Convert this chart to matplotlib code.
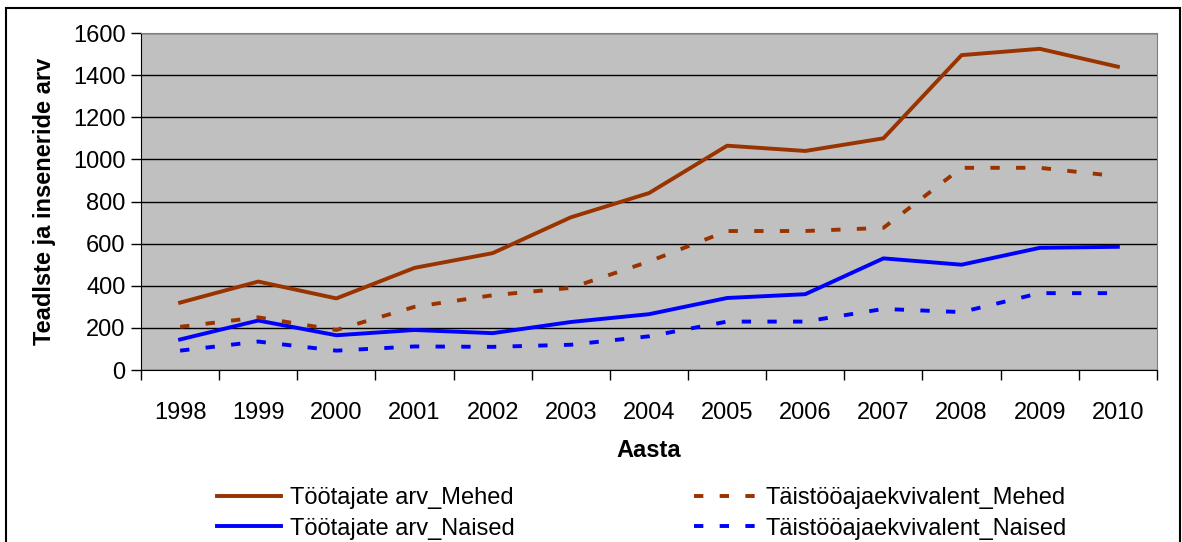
import numpy as np
import matplotlib
matplotlib.use("Agg")
import matplotlib.pyplot as plt
from matplotlib.patches import Rectangle

plt.rcParams['font.family'] = ['Liberation Sans', 'DejaVu Sans']

# andmed
years = ["1998", "1999", "2000", "2001", "2002", "2003", "2004",
         "2005", "2006", "2007", "2008", "2009", "2010"]
tootajad_mehed = [320, 420, 340, 485, 555, 725, 840, 1065, 1040, 1100, 1495, 1525, 1440]
tais_mehed = [205, 250, 190, 300, 355, 390, 515, 660, 660, 675, 960, 960, 920]
tootajad_naised = [145, 235, 165, 190, 175, 228, 265, 342, 360, 530, 500, 580, 585]
tais_naised = [92, 135, 92, 112, 110, 120, 160, 230, 230, 290, 275, 365, 365]

brown = "#993300"
blue = "#0000FF"
fs = 17

fig = plt.figure(figsize=(11.82, 5.42), dpi=100)
ax = fig.add_axes([0.1193, 0.3173, 0.8595, 0.6218])
ax.set_facecolor("#C0C0C0")

x = np.arange(len(years))
lw = 2.8
dash = (2.4, 4.2)
l1, = ax.plot(x, tootajad_mehed, color=brown, lw=lw, label="Töötajate arv_Mehed")
l2, = ax.plot(x, tootajad_naised, color=blue, lw=lw, label="Töötajate arv_Naised")
l3, = ax.plot(x, tais_mehed, color=brown, lw=lw, dashes=dash, label="Täistööajaekvivalent_Mehed")
l4, = ax.plot(x, tais_naised, color=blue, lw=lw, dashes=dash, label="Täistööajaekvivalent_Naised")

ax.set_xlim(-0.5, len(years) - 0.5)
ax.set_ylim(0, 1600)
ax.set_yticks(np.arange(0, 1601, 200))
ax.yaxis.grid(True, color="black", lw=1.0)
ax.set_axisbelow(True)

ax.set_xticks(np.arange(-0.5, len(years), 1.0))
ax.set_xticklabels([])
ax.set_xticks(x, minor=True)
ax.set_xticklabels(years, minor=True)
ax.tick_params(axis="x", which="minor", length=0, pad=23, labelsize=fs)
ax.tick_params(axis="x", which="major", length=7, width=1, direction="out")
ax.tick_params(axis="y", length=7, width=1, direction="out", labelsize=fs, pad=4)

for s in ["top", "right"]:
    ax.spines[s].set_color("#808080")
for s in ["left", "bottom"]:
    ax.spines[s].set_color("black")

ax.set_xlabel("Aasta", fontsize=fs, fontweight="bold", labelpad=11)
ax.set_ylabel("Teadlste ja inseneride arv", fontsize=fs, fontweight="bold", labelpad=12)

fig.legend(handles=[l1, l2, l3, l4], ncol=2, loc="upper left",
           bbox_to_anchor=(0.184, 0.101), frameon=False, fontsize=fs,
           handlelength=2.7, handletextpad=0.35, columnspacing=7.6,
           labelspacing=0.36, borderaxespad=0, borderpad=0)

# raam ümber joonise
fig.patches.append(Rectangle((6 / 1182, -0.05), 1174 / 1182, 1.05 - 8 / 542,
                             transform=fig.transFigure, fill=False,
                             edgecolor="black", lw=1.5))

fig.savefig("out.png", dpi=100)
